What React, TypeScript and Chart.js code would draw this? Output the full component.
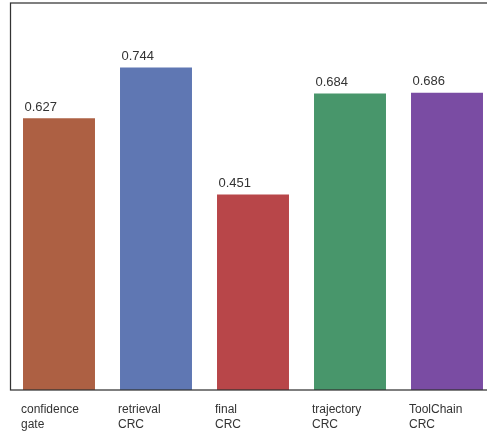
import React, { useEffect, useRef } from "react";
import { Chart, registerables } from "chart.js";

Chart.register(...registerables);

const categories: string[][] = [
  ["confidence", "gate"],
  ["retrieval", "CRC"],
  ["final", "CRC"],
  ["trajectory", "CRC"],
  ["ToolChain", "CRC"],
];
const values: number[] = [0.627, 0.744, 0.451, 0.684, 0.686];
const valueLabels: string[] = ["0.627", "0.744", "0.451", "0.684", "0.686"];
const barColors: string[] = ["#ad6043", "#5f77b3", "#b84649", "#48966b", "#7a4ca3"];
const yMax = 0.744 * 1.2;

const framePlugin = {
  id: "frame",
  afterDraw(chart: any) {
    const { ctx, chartArea } = chart;
    ctx.save();
    ctx.strokeStyle = "#333333";
    ctx.lineWidth = 1.25;
    ctx.strokeRect(chartArea.left, chartArea.top, chartArea.right - chartArea.left, chartArea.bottom - chartArea.top);
    ctx.restore();
  },
};

const valueLabelPlugin = {
  id: "valueLabels",
  afterDatasetsDraw(chart: any) {
    const { ctx } = chart;
    const meta = chart.getDatasetMeta(0);
    ctx.save();
    ctx.font = "13px 'Liberation Sans', Arial, sans-serif";
    ctx.fillStyle = "#333333";
    ctx.textAlign = "left";
    ctx.textBaseline = "alphabetic";
    meta.data.forEach((bar: any, i: number) => {
      const left = bar.x - bar.width / 2;
      ctx.fillText(valueLabels[i], left + 1.5, bar.y - 7.5);
    });
    ctx.restore();
  },
};

export default function App() {
  const ref = useRef<HTMLCanvasElement | null>(null);
  useEffect(() => {
    if (!ref.current) return;
    const chart = new Chart(ref.current, {
      type: "bar",
      data: {
        labels: categories as any,
        datasets: [
          {
            data: values,
            backgroundColor: barColors,
            borderWidth: 0,
            barPercentage: 0.742,
            categoryPercentage: 1,
          },
        ],
      },
      options: {
        animation: false,
        responsive: false,
        maintainAspectRatio: false,
        layout: { padding: { left: 10.5, right: 4.5, top: 3, bottom: 3 } },
        plugins: { legend: { display: false }, tooltip: { enabled: false } },
        scales: {
          x: {
            grid: { display: false, drawTicks: false },
            border: { display: false },
            afterFit(scale: any) {
              scale.height = 42;
              scale.paddingLeft = 0;
              scale.paddingRight = 0;
            },
            ticks: {
              align: "start",
              labelOffset: -38,
              padding: 12,
              maxRotation: 0,
              minRotation: 0,
              autoSkip: false,
              color: "#333333",
              font: { family: "'Liberation Sans', Arial, sans-serif", size: 12, lineHeight: 1.25 },
            },
          },
          y: {
            display: false,
            min: 0,
            max: yMax,
          },
        },
      },
      plugins: [framePlugin, valueLabelPlugin],
    });
    return () => chart.destroy();
  }, []);
  return (
    <div style={{ position: "fixed", left: 0, top: 0, width: 487, height: 435, overflow: "hidden", background: "#fff" }}>
      <canvas ref={ref} width={500} height={435} style={{ display: "block", width: 500, height: 435 }} />
    </div>
  );
}
